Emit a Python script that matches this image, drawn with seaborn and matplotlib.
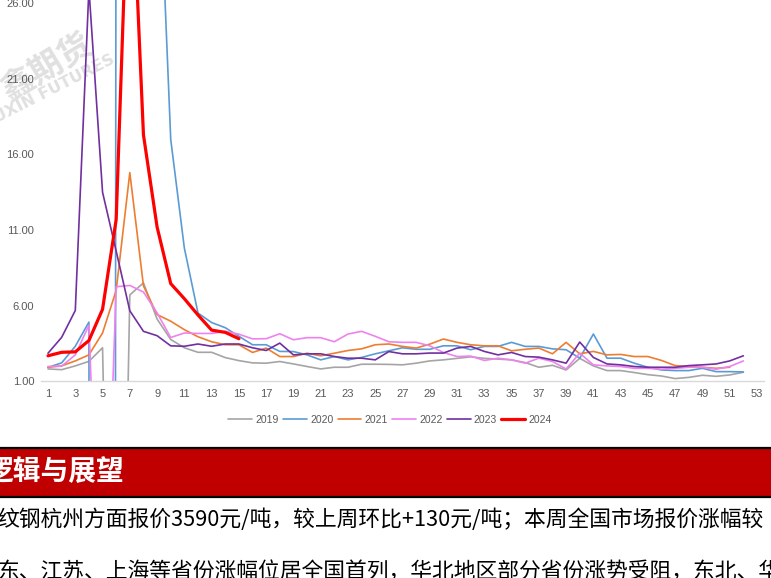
import numpy as np
import pandas as pd
import seaborn as sns
import matplotlib
matplotlib.use("Agg")
import matplotlib.pyplot as plt
from matplotlib.patches import Rectangle
from matplotlib.lines import Line2D

# weekly values (1 .. 52)
weeks = list(range(1, 53))
y2019 = [1.8, 1.75, 2.0, 2.3, 3.2, -40, 6.7, 7.5, 5.1, 3.75,
         3.2, 2.9, 2.9, 2.55, 2.35, 2.2, 2.18, 2.29, 2.13, 1.96,
         1.8, 1.91, 1.91, 2.11, 2.11, 2.1, 2.07, 2.18, 2.33, 2.4,
         2.5, 2.6, 2.5, 2.45, 2.4, 2.22, 1.91, 2.04, 1.73, 2.5,
         2.0, 1.69, 1.69, 1.56, 1.42, 1.33, 1.16, 1.24, 1.38, 1.31,
         1.4, 1.58]
y2020 = [1.9, 2.2, 3.3, 4.9, -800, 45, 50, 48, 39, 17,
         9.8, 5.5, 4.87, 4.53, 3.96, 3.4, 3.4, 2.96, 2.95, 2.73,
         2.4, 2.62, 2.4, 2.56, 2.8, 3.0, 3.2, 3.1, 3.1, 3.33,
         3.33, 3.07, 3.29, 3.29, 3.56, 3.29, 3.29, 3.13, 3.07, 2.51,
         4.11, 2.51, 2.51, 2.18, 1.91, 1.73, 1.69, 1.69, 1.84, 1.62,
         1.62, 1.6]
y2021 = [1.91, 2.0, 2.33, 2.73, 4.18, 7.0, 14.8, 7.3, 5.4, 4.96,
         4.4, 3.93, 3.6, 3.4, 3.4, 2.89, 3.18, 2.62, 2.62, 2.84,
         2.67, 2.84, 3.02, 3.13, 3.4, 3.45, 3.29, 3.18, 3.44, 3.78,
         3.56, 3.4, 3.33, 3.33, 3.0, 3.1, 3.18, 2.8, 3.56, 2.8,
         2.96, 2.73, 2.76, 2.62, 2.62, 2.36, 2.02, 1.96, 1.91, 1.84,
         1.91]
y2022 = [1.96, 1.98, 2.73, 4.69, -19, 7.24, 7.33, 6.89, 5.51, 3.88,
         4.18, 4.15, 4.15, 4.29, 4.1, 3.79, 3.8, 4.13, 3.73, 3.87,
         3.87, 3.6, 4.11, 4.29, 3.96, 3.6, 3.56, 3.56, 3.33, 2.89,
         2.62, 2.65, 2.36, 2.51, 2.4, 2.18, 2.51, 2.29, 1.8, 2.84,
         2.07, 2.0, 1.96, 1.84, 1.84, 1.78, 1.84, 1.91, 1.91, 1.78,
         1.96, 2.33]
y2023 = [2.84, 3.89, 5.67, 27.0, 13.5, 9.6, 5.65, 4.29, 4.0, 3.33,
         3.3, 3.45, 3.3, 3.45, 3.45, 3.2, 3.02, 3.51, 2.73, 2.8,
         2.8, 2.62, 2.51, 2.51, 2.4, 2.95, 2.8, 2.8, 2.85, 2.85,
         3.18, 3.29, 2.96, 2.73, 2.89, 2.62, 2.58, 2.4, 2.18, 3.58,
         2.56, 2.13, 2.07, 1.96, 1.91, 1.91, 1.91, 2.02, 2.07, 2.13,
         2.33, 2.67]
y2024 = [2.67, 2.9, 2.93, 3.68, 5.75, 11.7, 38, 17.3, 11.2, 7.45,
         6.45, 5.37, 4.37, 4.22, 3.8]

years = ["2019", "2020", "2021", "2022", "2023", "2024"]
series = [y2019, y2020, y2021, y2022, y2023, y2024]
colors = ["#A5A5A5", "#5B9BD5", "#ED7D31", "#EE82EE", "#7030A0", "#FF0000"]
widths = [1.2, 1.2, 1.2, 1.2, 1.2, 2.3]

yticks = [1, 6, 11, 16, 21, 26, 31]
xticks = list(range(1, 54, 2))

title_text = "逻辑与展望"
body1 = "纹钢杭州方面报价3590元/吨，较上周环比+130元/吨；本周全国市场报价涨幅较"
body2 = "东、江苏、上海等省份涨幅位居全国首列，华北地区部分省份涨势受阻，东北、华"

sns.set_theme(style="white")
plt.rcParams["font.family"] = ["Noto Sans CJK SC", "DejaVu Sans"]

W, H = 771, 578
fig = plt.figure(figsize=(W / 100, H / 100), dpi=100)
# the chart is cut at the top of the picture, so the axes reach past it
ax = fig.add_axes([41.2 / W, 1 - 381 / H, 722.6 / W, (381 + 72) / H])
ax.set_facecolor("none")

for yr, vals, c, lw in zip(years, series, colors, widths):
    df = pd.DataFrame({"week": weeks[:len(vals)], "value": vals})
    sns.lineplot(data=df, x="week", y="value", color=c, linewidth=lw,
                 label=yr, ax=ax, zorder=2)

ax.set_xlim(0.5, 53.5)
ax.set_ylim(1, 31)
ax.set_xticks(xticks)
ax.set_xticklabels([str(t) for t in xticks])
ax.set_yticks(yticks)
ax.set_yticklabels([f"{t:.2f}" for t in yticks])
ax.set_xlabel("")
ax.set_ylabel("")
ax.tick_params(axis="both", length=0, labelsize=8, colors="#595959")
ax.tick_params(axis="x", pad=6)
ax.tick_params(axis="y", pad=5)
for lab in ax.get_xticklabels() + ax.get_yticklabels():
    lab.set_family(["Liberation Sans", "DejaVu Sans"])
sns.despine(ax=ax, left=True, top=True, right=True)
ax.spines["bottom"].set_color("#D9D9D9")
ax.spines["bottom"].set_linewidth(1.0)
ax.grid(False)

handles, labels = ax.get_legend_handles_labels()
ax.get_legend().remove()
leg = fig.legend(handles, labels, loc="center", bbox_to_anchor=(390 / W, 1 - 420 / H),
                 ncol=6, frameon=False, fontsize=7.5, handlelength=2.3,
                 columnspacing=0.4, handletextpad=0.3)
for t in leg.get_texts():
    t.set_color("#595959")
    t.set_family(["Liberation Sans", "DejaVu Sans"])

# faint watermark
ax.text(9 / W, 1 - 101 / H, "鑫期货", transform=fig.transFigure, rotation=31,
        rotation_mode="anchor", fontsize=24, fontweight="bold", color="#E0E0E0",
        zorder=0, ha="left", va="baseline")
ax.text(-3 / W, 1 - 123 / H, "UXIN FUTURES", transform=fig.transFigure, rotation=27,
        rotation_mode="anchor", fontsize=11.5, fontweight="bold", color="#E0E0E0",
        zorder=0, ha="left", va="baseline", family=["DejaVu Sans"])

# red section banner
fig.add_artist(Rectangle((0, 1 - 496 / H), 1, 48 / H, transform=fig.transFigure,
                         facecolor="#C00000", edgecolor="none"))
fig.add_artist(Line2D([0, 1], [1 - 448 / H] * 2, transform=fig.transFigure,
                      color="black", lw=1.6))
fig.add_artist(Line2D([0, 1], [1 - 496.5 / H] * 2, transform=fig.transFigure,
                      color="black", lw=1.6))
fig.text(-14 / W, 1 - 472 / H, title_text, color="white", fontsize=20,
         fontweight="bold", va="center", ha="left")

fig.text(-3 / W, 1 - 520 / H, body1, color="black", fontsize=15.7, va="center", ha="left")
fig.text(-3 / W, 1 - 573 / H, body2, color="black", fontsize=15.7, va="center", ha="left")

fig.savefig("out.png", dpi=100)
